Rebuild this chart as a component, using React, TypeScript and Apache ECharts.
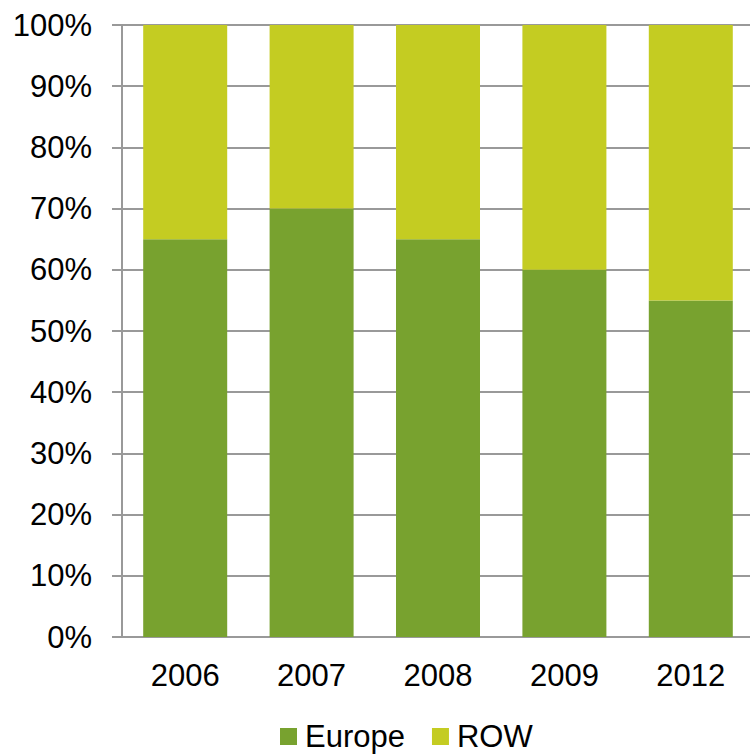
import React, { useEffect, useRef } from "react";
import * as echarts from "echarts";

const categories = ["2006", "2007", "2008", "2009", "2012"];
const europe = [65, 70, 65, 60, 55];
const row = [35, 30, 35, 40, 45];
const yTicks = [0, 10, 20, 30, 40, 50, 60, 70, 80, 90, 100];

export default function App() {
  const ref = useRef<HTMLDivElement>(null);
  useEffect(() => {
    const chart = echarts.init(ref.current!, null, { renderer: "svg" });
    const font = "'Liberation Sans', Arial, sans-serif";
    chart.setOption({
      animation: false,
      grid: { left: 122, right: 0, top: 25, bottom: 117, containLabel: false },
      legend: {
        data: ["Europe", "ROW"],
        left: 280,
        top: 721,
        padding: 0,
        itemWidth: 17,
        itemHeight: 17,
        itemGap: 27,
        icon: "rect",
        textStyle: { fontFamily: font, fontSize: 31, color: "#000", padding: [0, 0, 0, 3], lineHeight: 31 },
      },
      xAxis: {
        type: "category",
        data: categories,
        axisLine: { show: true, lineStyle: { color: "#999", width: 2 } },
        axisTick: { show: false },
        axisLabel: { fontFamily: font, fontSize: 31, color: "#000", margin: 23 },
      },
      yAxis: {
        type: "value",
        min: 0,
        max: 100,
        interval: 10,
        axisLine: { show: true, lineStyle: { color: "#999", width: 2 } },
        axisTick: { show: true, inside: false, length: 10, lineStyle: { color: "#999", width: 2 } },
        splitLine: { show: true, lineStyle: { color: "#999", width: 2 } },
        axisLabel: {
          fontFamily: font,
          fontSize: 31,
          color: "#000",
          margin: 30,
          formatter: (v: number) => (yTicks.includes(v) ? v + "%" : ""),
        },
      },
      series: [
        {
          name: "Europe",
          type: "bar",
          stack: "total",
          data: europe,
          barWidth: 84,
          itemStyle: { color: "#78A22F" },
        },
        {
          name: "ROW",
          type: "bar",
          stack: "total",
          data: row,
          barWidth: 84,
          itemStyle: { color: "#C4CC22" },
        },
      ],
    });
    return () => chart.dispose();
  }, []);
  return (
    <div
      style={{ position: "absolute", left: 0, top: 0, width: 750, height: 754, overflow: "hidden", background: "#fff" }}
    >
      <div ref={ref} style={{ width: 754, height: 754 }} />
    </div>
  );
}
